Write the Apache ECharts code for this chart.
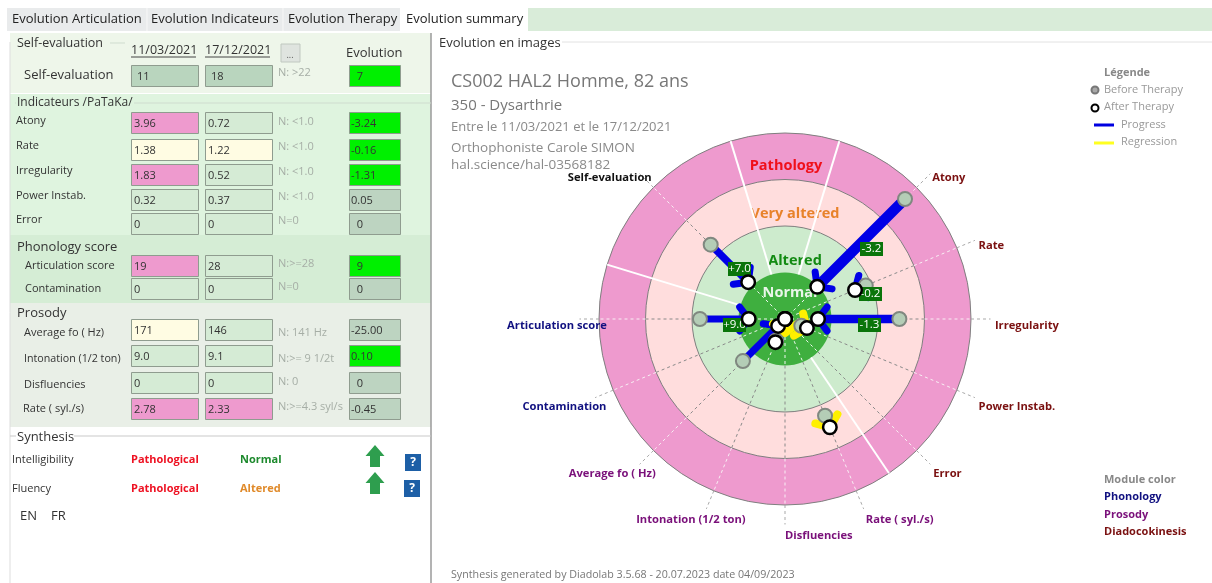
<!DOCTYPE html>
<html><head><meta charset="utf-8">
<style>html,body{margin:0;padding:0;background:#fff}#c{width:1212px;height:583px}</style>
<script src="https://cdn.jsdelivr.net/npm/echarts@6/dist/echarts.min.js"></script>
</head><body><div id="c"></div>
<script>
// ---- radar-like chart data ----
const indicatorNames = ['Self-evaluation','Atony','Rate','Irregularity','Power Instab.','Error','Rate ( syl./s)','Disfluencies','Intonation (1/2 ton)','Average fo ( Hz)','Contamination','Articulation score'];
const indicatorAngles = [315,45,67.5,90,112.5,135,157.5,180,202.5,225,247.5,270];
const moduleOf = ['self','dia','dia','dia','dia','dia','pro','pro','pro','pro','pho','pho'];
const beforeScores = [2.26,3.65,1.88,2.46,0.38,0,2.25,0,0.5,1.28,0,1.83];
const afterScores  = [1.12,0.98,1.63,0.71,0.51,0,2.52,0,0.54,0.21,0,0.78];
const trends = ['p','p','p','p','r',null,'r',null,null,'p',null,'p'];
const evolutionTags = ['+7.0','-3.2','-0.2','-1.3',null,null,null,null,null,null,null,'+9.0'];
const centreRegression = [0,0.3,180];
const severityLevels = [4,3,2,1];
const severityNames = ['Pathology','Very altered','Altered','Normal'];
const severityLabelRadius = [3.3,2.26,1.25,0.56];
const moduleBoundaries = [343,17,146,287];
// ---- side table data ----
const rowLabels = ['Self-evaluation','Atony','Rate','Irregularity','Power Instab.','Error','Articulation score','Contamination','Average fo ( Hz)','Intonation (1/2 ton)','Disfluencies','Rate ( syl./s)'];
const rowBefore = ['11','3.96','1.38','1.83','0.32','0','19','0','171','9.0','0','2.78'];
const rowAfter  = ['18','0.72','1.22','0.52','0.37','0','28','0','146','9.1','0','2.33'];
const rowNorms  = ['N: >22','N: <1.0','N: <1.0','N: <1.0','N: <1.0','N=0','N:>=28','N=0','N: 141 Hz','N:>= 9 1/2t','N: 0','N:>=4.3 syl/s'];
const rowEvolution = ['  7','-3.24','-0.16','-1.31','0.05','  0','  9','  0','-25.00','0.10','  0','-0.45'];
const rowBeforeState = ['s','p','y','p','g','g','p','g','y','g','g','p'];
const rowAfterState  = ['s','g','y','g','g','g','g','g','g','g','g','p'];
const rowEvoState = ['u','u','u','u','f','f','u','f','f','u','f','f'];
const tabNames = ['Evolution Articulation','Evolution Indicateurs','Evolution Therapy','Evolution summary'];
const sectionTitles = ['Self-evaluation','Indicateurs /PaTaKa/','Phonology score','Prosody','Synthesis'];
const synthesisRows = ['Intelligibility','Fluency'];
const synthesisBefore = ['Pathological','Pathological'];
const synthesisAfter = ['Normal','Altered'];
const headerLines = ['CS002 HAL2 Homme, 82 ans','350 - Dysarthrie','Entre le 11/03/2021 et le 17/12/2021','Orthophoniste Carole SIMON','hal.science/hal-03568182'];
const legendItems = ['Before Therapy','After Therapy','Progress','Regression'];
const moduleLegend = ['Phonology','Prosody','Diadocokinesis'];

// ---- layout + style ----
const UI = '"Open Sans"', CH = '"Open Sans"';
const moduleColor = {self:'#111', dia:'#7A1010', pro:'#7A107A', pho:'#101080'};
const ringFill = ['#EE9ACE','#FFDDDD','#CDEBCD','#3FAF3F'];
const ringText = ['#F0101A','#E8822A','#128A12','#EAF6EA'];
const ringLabelShift = [1,10,10,5];
const C = [785,319];
const labelOffsets = [[-66,10],[-4,10],[-4,9],[-4,7],[-4,6],[-3,4],[-1,3],[0,3],[-67,3],[-65,4],[-65,6],[-64,7]];
const rowY = [65,112,139,164,189,213,255,278,319,345,372,398];
const rowLabelPos = [[24,75,13],[16,121,11],[16,146,11],[16,171,11],[16,196,11],[16,220,11],[25,266,11],[25,289,11],[24,333,11],[24,359,10.7],[24,385,11],[23,409,11]];
const normYOffset = [8,10,8,8,8,8,9,9,14,14,10,9];

const g = [];
const T=(x,y,text,font,fill,align)=>({type:'text',x,y,silent:true,style:{text,font,fill,textAlign:align||'left',textVerticalAlign:'middle',align:align||'left',verticalAlign:'middle'}});
const R=(x,y,w,h,fill,stroke)=>({type:'rect',silent:true,shape:{x,y,width:w,height:h},style:{fill,stroke:stroke||null,lineWidth:1}});
const L=(a,b,c,d,stroke,w)=>({type:'line',silent:true,shape:{x1:a,y1:b,x2:c,y2:d},style:{stroke,lineWidth:w||1}});

// tab strip
g.push(R(7,8,393,23,'#E9EBEC'), R(528,8,684,23,'#D9ECD9'));
[[12],[151],[288],[406]].forEach((p,i)=>g.push(T(p[0],19,tabNames[i],'13px '+UI,'#222')));
g.push(L(147,8,147,31,'#F8F8F8'),L(283,8,283,31,'#F8F8F8'));
// panels
g.push(R(10,33,421,60,'#EEF6EA'),R(10,94,421,141,'#DFF4DF'),R(10,235,421,68,'#D5EDD5'),R(10,303,421,124,'#E9EFE7'));
g.push(L(431,33,431,583,'#9A9A9A',1.5), L(10,42,10,583,'#DDD'));
g.push(L(15,103,431,103,'#CFDCCF'),L(110,43,125,43,'#CFDCCF'));
g.push(L(10,436,431,436,'#C9C9C9'),L(562,42,1212,42,'#E2E2E2'));
[[17,43,12.5],[17,103,12],[17,247,13],[17,313,13],[17,437,13]].forEach((p,i)=>{
  g.push(R(p[0]-1,p[1]-8,i==0?84:i==1?118:i==2?103:i==3?50:58,16, ['#EEF6EA','#DFF4DF','#D5EDD5','#E9EFE7','#fff'][i]));
  g.push(T(p[0],p[1],sectionTitles[i],p[2]+'px '+UI,'#333'));
});
g.push(T(131,50,'11/03/2021','12.5px '+UI,'#333'),T(205,50,'17/12/2021','12.5px '+UI,'#333'),L(131,57,196,57,'#444'),L(205,57,270,57,'#444'));
g.push(R(281,44,19,18,'#DFE4DF','#C0C8C0'),T(290,55,'...','9px '+UI,'#555','center'),T(346,53,'Evolution','13px '+UI,'#333'));
const fills={s:'#B9D5BE',g:'#D5EBD5',p:'#EE9ACE',y:'#FFFCE3'}, evoFills={u:'#00F000',f:'#BDD4C1'};
rowLabels.forEach((n,i)=>{
  const y=rowY[i],p=rowLabelPos[i];
  g.push(T(p[0],p[1],n,p[2]+'px '+UI,'#333'));
  g.push(R(131.5,y+.5,67,21,fills[rowBeforeState[i]],'#8F9C8F'),R(205.5,y+.5,67,21,fills[rowAfterState[i]],'#8F9C8F'),R(349.5,y+.5,51,21,evoFills[rowEvoState[i]],'#8F9C8F'));
  g.push(T(i==0?137:134,y+11.5,rowBefore[i],'11px '+UI,'#333'),T(i==0?211:208,y+11.5,rowAfter[i],'11px '+UI,'#333'));
  g.push(T(351,y+11.5,rowEvolution[i],'11px '+UI,'#333'));
  g.push(T(278,y+normYOffset[i],rowNorms[i],'11px '+UI,'#A6AEA6'));
});
// synthesis
const synthY=[460,489];
synthesisRows.forEach((n,i)=>{
  const y=synthY[i];
  g.push(T(12,y,n,'11px '+UI,'#333'),T(131,y,synthesisBefore[i],'bold 11px '+UI,'#EE1122'));
  g.push(T(240,y,synthesisAfter[i],'bold 11px '+UI,i==0?'#1E8A2E':'#E08A2A'));
  const a=y-15+(i?-2:0);
  g.push({type:'polygon',silent:true,shape:{points:[[375,a],[384.5,a+11],[380,a+11],[380,a+22],[370,a+22],[370,a+11],[365.5,a+11]]},style:{fill:'#2E9E4E'}});
  const bx=405-i, by=i?480:454;
  g.push(R(bx,by,16,17,'#1D5FA6'),T(bx+8,by+9,'?','bold 12px '+UI,'#fff','center'));
});
g.push(T(20,516,'EN','13px '+UI,'#333'),T(51,516,'FR','13px '+UI,'#333'));
// right-hand texts
g.push(T(439,43,'Evolution en images','13px '+UI,'#333'));
[[82,'18px'],[106,'15px'],[127,'13px'],[148,'13.5px'],[165,'13.5px']].forEach((p,i)=>g.push(T(451,p[0],headerLines[i],p[1]+' '+CH,i<2?'#777':'#8A8A8A')));
g.push(T(451,575,'Synthesis generated by Diadolab 3.5.68 - 20.07.2023 date 04/09/2023','10.7px '+CH,'#777'));
g.push(T(1104,73,'Légende','bold 11px '+CH,'#888'));
g.push({type:'circle',silent:true,shape:{cx:1095,cy:90,r:3.5},style:{fill:'#A8A8A8',stroke:'#777',lineWidth:2}});
g.push({type:'circle',silent:true,shape:{cx:1095,cy:108,r:3.5},style:{fill:'#fff',stroke:'#000',lineWidth:2}});
g.push(T(1104,90,legendItems[0],'11px '+CH,'#999'),T(1104,107,legendItems[1],'11px '+CH,'#999'));
g.push(L(1094,125,1114,125,'#0000E0',3),L(1094,143,1114,143,'#FFFF20',3));
g.push(T(1121,125,legendItems[2],'11px '+CH,'#999'),T(1121,142,legendItems[3],'11px '+CH,'#999'));
g.push(T(1104,480,'Module color','bold 11px '+CH,'#888'));
[[497,'#101080'],[515,'#7A107A'],[532,'#7A1010']].forEach((p,i)=>g.push(T(1104,p[0],moduleLegend[i],'bold 11px '+CH,p[1])));

// ---- polar series ----
const dist=(p,c)=>Math.hypot(p[0]-c.cx,p[1]-c.cy);
const rings={type:'custom',coordinateSystem:'polar',z:1,silent:true,data:severityLevels.map(v=>[v,0]),
  renderItem(params,api){
    const c=params.coordSys, r=dist(api.coord([api.value(0),0]),c), i=params.dataIndex;
    return {type:'circle',shape:{cx:c.cx,cy:c.cy,r},style:{fill:ringFill[i],stroke:i==3?null:'#7F7F7F',lineWidth:1}};
  }};
const ringLabels={type:'custom',coordinateSystem:'polar',z:2,silent:true,data:severityLabelRadius.map(v=>[v,0]),
  renderItem(params,api){
    const p=api.coord([api.value(0),0]), i=params.dataIndex;
    return {type:'text',x:p[0]+ringLabelShift[i],y:p[1],style:{text:severityNames[i],font:'bold 14.5px '+CH,fill:ringText[i],textAlign:'center',textVerticalAlign:'middle',align:'center',verticalAlign:'middle'}};
  }};
const spokeBands=[[0,1,'#F0F8F0'],[1,3,'#8A8A8A'],[3,4,'#F8F0F4'],[4,4.42,'#AAAAAA']];
const spokes={type:'custom',coordinateSystem:'polar',z:3,silent:true,data:indicatorAngles.map(a=>[0,a]),
  renderItem(params,api){
    const a=api.value(1);
    return {type:'group',children:spokeBands.map(b=>{
      const p=api.coord([b[0],a]),q=api.coord([b[1],a]);
      return {type:'line',shape:{x1:p[0],y1:p[1],x2:q[0],y2:q[1]},style:{stroke:b[2],lineWidth:1,lineDash:[3,3]}};
    })};
  }};
const boundaries={type:'custom',coordinateSystem:'polar',z:4,silent:true,data:moduleBoundaries.map(a=>[1,a]),
  renderItem(params,api){
    const a=api.value(1),p=api.coord([1,a]),q=api.coord([4,a]);
    return {type:'line',shape:{x1:p[0],y1:p[1],x2:q[0],y2:q[1]},style:{stroke:'#fff',lineWidth:2}};
  }};
const arrowData=indicatorNames.map((n,i)=>[beforeScores[i],afterScores[i],indicatorAngles[i],trends[i]=='r'?1:0]).filter((d,i)=>trends[i]);
arrowData.push([centreRegression[0],centreRegression[1],centreRegression[2],1]);
arrowData.sort((a,b)=>a[3]-b[3]);
const arrows={type:'custom',coordinateSystem:'polar',z:5,silent:true,data:arrowData,
  renderItem(params,api){
    const b=api.value(0),e=api.value(1),a=api.value(2),reg=api.value(3);
    const p=api.coord([b,a]),q=api.coord([e,a]);
    const w=5+2*Math.abs(b-e), col=reg?'#FFF000':'#0000E6';
    const t=Math.atan2(p[1]-q[1],p[0]-q[0]), WL=15, WA=Math.PI/3.4;
    const wing=s=>[q[0]+WL*Math.cos(t+s*WA),q[1]+WL*Math.sin(t+s*WA)];
    return {type:'group',children:[
      {type:'line',shape:{x1:p[0],y1:p[1],x2:q[0],y2:q[1]},style:{stroke:col,lineWidth:w}},
      {type:'polyline',shape:{points:[wing(1),q,wing(-1)]},style:{stroke:col,lineWidth:reg?8:7,lineCap:'round',lineJoin:'round',fill:null}}
    ]};
  }};
const beforeSeries={name:'Before Therapy',type:'scatter',coordinateSystem:'polar',z:6,silent:true,symbolSize:14,
  data:beforeScores.map((v,i)=>[v,indicatorAngles[i]]),itemStyle:{color:'#B4CDB6',borderColor:'#808880',borderWidth:2,opacity:1}};
const tags={type:'custom',coordinateSystem:'polar',z:7,silent:true,
  data:indicatorNames.map((n,i)=>[beforeScores[i],afterScores[i],indicatorAngles[i],i]).filter((d,i)=>evolutionTags[i]),
  renderItem(params,api){
    const a=api.value(2),p=api.coord([api.value(0),a]),q=api.coord([api.value(1),a]);
    const x=Math.round((p[0]+q[0])/2)-1,y=Math.round((p[1]+q[1])/2)-1,txt=evolutionTags[api.value(3)];
    return {type:'group',children:[
      {type:'rect',shape:{x,y,width:23,height:14},style:{fill:'#0A750A'}},
      {type:'text',x:x+11.5,y:y+7,style:{text:txt,font:'11.5px '+CH,fill:'#fff',textAlign:'center',textVerticalAlign:'middle',align:'center',verticalAlign:'middle'}}
    ]};
  }};
const afterSeries={name:'After Therapy',type:'scatter',coordinateSystem:'polar',z:8,silent:true,symbolSize:13.5,
  data:afterScores.map((v,i)=>[v,indicatorAngles[i]]),itemStyle:{color:'#fff',borderColor:'#000',borderWidth:2.5,opacity:1}};
const axisLabels={type:'custom',coordinateSystem:'polar',z:9,silent:true,data:indicatorAngles.map(a=>[4.6,a]),
  renderItem(params,api){
    const i=params.dataIndex,p=api.coord([api.value(0),api.value(1)]),o=labelOffsets[i];
    return {type:'text',x:p[0]+o[0],y:p[1]+o[1],style:{text:indicatorNames[i],font:'bold 11.2px '+CH,fill:moduleColor[moduleOf[i]],textAlign:'left',textVerticalAlign:'middle',align:'left',verticalAlign:'middle'}};
  }};

const chart=echarts.init(document.getElementById('c'));
chart.setOption({
  animation:false,
  backgroundColor:'#fff',
  polar:{center:C,radius:186},
  angleAxis:{type:'value',min:0,max:360,startAngle:90,clockwise:true,show:false},
  radiusAxis:{type:'value',min:0,max:4,show:false},
  graphic:{elements:g},
  series:[rings,ringLabels,spokes,boundaries,arrows,beforeSeries,tags,afterSeries,axisLabels]
});
</script></body></html>
